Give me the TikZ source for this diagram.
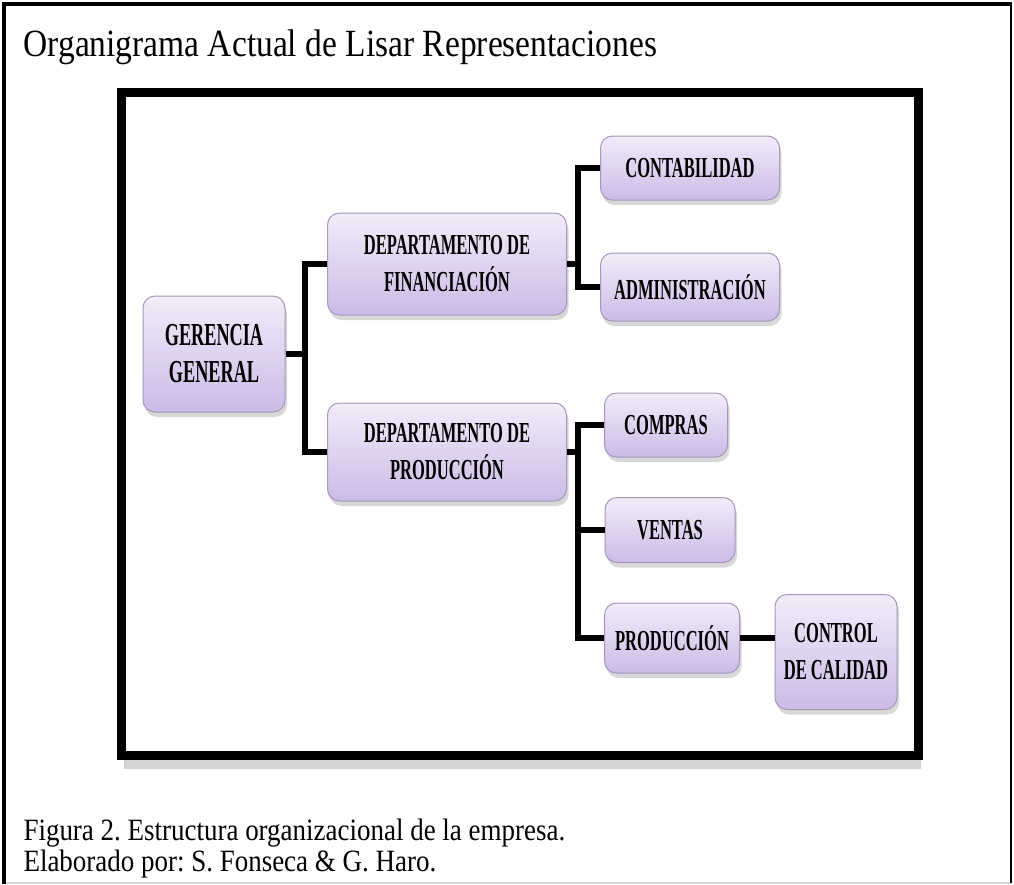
\documentclass[tikz,border=0pt]{standalone}
\usepackage{fontspec}
\setmainfont{Liberation Serif}
\newfontfamily\boxfont[FakeStretch=0.57]{Liberation Serif}
\newfontfamily\narrowfont[FakeStretch=0.87]{Liberation Serif}
\usetikzlibrary{shadows}
\definecolor{boxtop}{RGB}{242,236,250}
\definecolor{boxbot}{RGB}{203,187,230}
\definecolor{boxedge}{RGB}{165,152,188}
\tikzset{
  orgbox/.style={draw=boxedge,line width=1pt,rounded corners=12pt,
    top color=boxtop,bottom color=boxbot,inner sep=0pt,align=center,
    drop shadow={shadow xshift=2pt,shadow yshift=-5pt,opacity=.3},
    font=\boxfont\bfseries\fontsize{29}{37}\selectfont},
  link/.style={line width=6pt,black},
  textline/.style={anchor=base west,font=\narrowfont\fontsize{31}{34}\selectfont}
}
\frenchspacing
\begin{document}
\begin{tikzpicture}[x=1pt,y=-1pt,line join=miter]
  \useasboundingbox (0,0) rectangle (1014,884);
  % Marco de la pagina
  \draw[gray!30,line width=2pt] (4,883) -- (1011,883);
  \draw[line width=2pt] (1011,4) -- (1011,883);
  \draw[line width=4pt] (4,884) -- (4,4) -- (1012,4);
  \node[textline,font=\narrowfont\fontsize{38.5}{44}\selectfont] (titulo) at (20,56) {Organigrama Actual de Lisar Representaciones};
  % Marco del organigrama
  \draw[line width=9pt,fill=white,drop shadow={shadow xshift=2pt,shadow yshift=-13pt,opacity=.35}] (121.5,92.5) rectangle (918.5,755.5);
  % Nivel 1
  \node[orgbox,minimum width=142pt,minimum height=116pt,font=\boxfont\bfseries\fontsize{32}{37}\selectfont] (ger) at (214,354) {GERENCIA\\GENERAL};
  % Nivel 2
  \node[orgbox,minimum width=239pt,minimum height=102pt] (fin) at (447,264) {DEPARTAMENTO DE\\FINANCIACIÓN};
  \node[orgbox,minimum width=239pt,minimum height=98pt] (prod) at (447,452) {DEPARTAMENTO DE\\PRODUCCIÓN};
  % Nivel 3
  \node[orgbox,minimum width=179pt,minimum height=64pt] (cont) at (690,168) {CONTABILIDAD};
  \node[orgbox,minimum width=179pt,minimum height=68pt] (adm) at (690,287) {ADMINISTRACIÓN};
  \node[orgbox,minimum width=123pt,minimum height=64pt] (comp) at (666,425) {COMPRAS};
  \node[orgbox,minimum width=130pt,minimum height=65pt] (vent) at (670,530) {VENTAS};
  \node[orgbox,minimum width=135pt,minimum height=70pt] (produ) at (672,638) {PRODUCCIÓN};
  % Nivel 4
  \node[orgbox,minimum width=122pt,minimum height=115pt] (ctrl) at (836,652) {CONTROL\\DE CALIDAD};
  % Conectores
  \coordinate (busA) at (305,0);
  \coordinate (busB) at (578,0);
  \draw[link] (ger.east) -- (ger.east -| busA);
  \draw[link] (fin.west) -- (fin.west -| busA) |- (prod.west);
  \draw[link] (fin.east) -- (fin.east -| busB);
  \draw[link] (cont.west) -- (cont.west -| busB) |- (adm.west);
  \draw[link] (prod.east) -- (prod.east -| busB);
  \draw[link] (comp.west) -- (comp.west -| busB) |- (produ.west);
  \draw[link] (vent.west) -- (vent.west -| busB);
  \draw[link] (produ.east) -- (produ.east -| ctrl.west);
  % Pie de figura
  \node[textline] (pie) at (20,840) {Figura 2. Estructura organizacional de la empresa.};
  \node[textline] (autor) at (20,871) {Elaborado por: S. Fonseca \& G. Haro.};
\end{tikzpicture}
\end{document}
